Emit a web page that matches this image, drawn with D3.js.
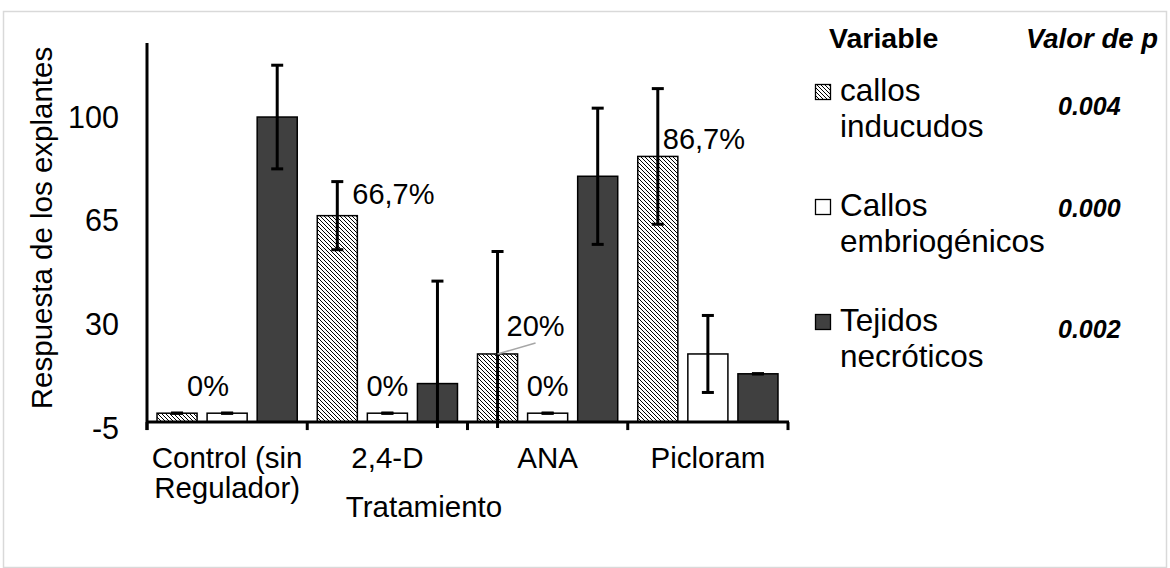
<!DOCTYPE html>
<html>
<head>
<meta charset="utf-8">
<script src="https://cdn.jsdelivr.net/npm/d3@7"></script>
<style>
  html, body { margin: 0; padding: 0; background: #fff; }
  svg { display: block; font-family: "Liberation Sans", Arial, sans-serif; }
</style>
</head>
<body>
<svg id="chart" width="1170" height="568"></svg>
<script>
// Treatments on the x axis
const categories = ["Control (sin Regulador)", "2,4-D", "ANA", "Picloram"];
const categoryLines = [["Control (sin", "Regulador)"], ["2,4-D"], ["ANA"], ["Picloram"]];

// Response variables (series)
const seriesNames = ["callos inducudos", "Callos embriogénicos", "Tejidos necróticos"];
const legendLines = [["callos", "inducudos"], ["Callos", "embriogénicos"], ["Tejidos", "necróticos"]];
const pValues = ["0.004", "0.000", "0.002"];

// Mean response per treatment, one array per series
const callosInducidos = [0, 66.7, 20, 86.7];
const callosEmbriogenicos = [0, 0, 0, 20];
const tejidosNecroticos = [100, 10, 80, 13.3];

// Error (± half-length) per treatment, one array per series
const errCallosInducidos = [0, 11.5, 34.6, 22.9];
const errCallosEmbriogenicos = [0, 0, 0, 13];
const errTejidosNecroticos = [17.5, 34.6, 23, 0];

// Data labels (text shown above selected bars)
const labelSeries = [0, 0, 1, 0, 1, 0];
const labelCategory = [0, 1, 1, 2, 2, 3];
const labelText = ["0%", "66,7%", "0%", "20%", "0%", "86,7%"];

// Y axis ticks
const yTicks = [-5, 30, 65, 100];

const values = [callosInducidos, callosEmbriogenicos, tejidosNecroticos];
const errors = [errCallosInducidos, errCallosEmbriogenicos, errTejidosNecroticos];

const svg = d3.select("#chart");
const FONT = 29.5;

// outer chart border
svg.append("rect")
  .attr("x", 3.5).attr("y", 11.5).attr("width", 1163).attr("height", 556)
  .attr("fill", "none").attr("stroke", "#d9d9d9").attr("stroke-width", 1.5);

// hatch pattern (dark downward diagonal)
const defs = svg.append("defs");
const pat = defs.append("pattern")
  .attr("id", "hatch").attr("patternUnits", "userSpaceOnUse")
  .attr("width", 4).attr("height", 4);
pat.append("rect").attr("width", 4).attr("height", 4).attr("fill", "#fff");
pat.append("path")
  .attr("d", "M-1,-1 L5,5 M-1,3 L1,5 M3,-1 L5,1")
  .attr("stroke", "#000").attr("stroke-width", 1.0);

const fills = ["url(#hatch)", "#ffffff", "#404040"];

const plot = { left: 147, right: 788, top: 43, bottom: 428 };
const axisCross = -3;

const x0 = d3.scaleBand().domain(categories).range([plot.left, plot.right]).padding(0);
const x1 = d3.scaleBand().domain(d3.range(seriesNames.length))
  .range([0, x0.bandwidth()]).paddingInner(0.2).paddingOuter(0.2);
const y = d3.scaleLinear().domain([-5, 125]).range([plot.bottom, plot.top]);

// bars
const g = svg.append("g");
categories.forEach((c, ci) => {
  values.forEach((vals, si) => {
    const bx = x0(c) + x1(si);
    const top = y(vals[ci]);
    g.append("rect")
      .attr("x", bx).attr("y", top)
      .attr("width", x1.bandwidth())
      .attr("height", y(axisCross) - top)
      .attr("fill", fills[si])
      .attr("stroke", "#000").attr("stroke-width", 1.5);
  });
});

// error bars
const eg = svg.append("g").attr("stroke", "#000").attr("stroke-width", 3);
categories.forEach((c, ci) => {
  values.forEach((vals, si) => {
    const cx = x0(c) + x1(si) + x1.bandwidth() / 2;
    const v = vals[ci], e = errors[si][ci];
    const hi = v + e, lo = Math.max(v - e, -5);
    const cap = 6;
    eg.append("line").attr("x1", cx).attr("x2", cx).attr("y1", y(hi)).attr("y2", y(lo));
    eg.append("line").attr("x1", cx - cap).attr("x2", cx + cap).attr("y1", y(hi)).attr("y2", y(hi));
    if (v - e >= -5) {
      eg.append("line").attr("x1", cx - cap).attr("x2", cx + cap).attr("y1", y(lo)).attr("y2", y(lo));
    }
  });
});

// axes
svg.append("line")
  .attr("x1", plot.left).attr("x2", plot.left)
  .attr("y1", y(125)).attr("y2", y(-5) + 2)
  .attr("stroke", "#000").attr("stroke-width", 3);
svg.append("line")
  .attr("x1", plot.left).attr("x2", plot.right + 1)
  .attr("y1", y(axisCross)).attr("y2", y(axisCross))
  .attr("stroke", "#000").attr("stroke-width", 3);

// category boundary ticks
const boundaries = categories.map(c => x0(c)).concat([plot.right]);
svg.append("g").selectAll("line").data(boundaries).join("line")
  .attr("x1", d => d).attr("x2", d => d)
  .attr("y1", y(axisCross)).attr("y2", y(axisCross) + 8)
  .attr("stroke", "#000").attr("stroke-width", 3);

// y tick labels
svg.append("g").selectAll("text").data(yTicks).join("text")
  .attr("x", 119).attr("y", d => y(d)).attr("dy", "0.35em")
  .attr("text-anchor", "end").attr("font-size", 30.5).attr("fill", "#000")
  .text(d => d);

// category labels
categories.forEach((c, ci) => {
  const t = svg.append("text")
    .attr("x", x0(c) + x0.bandwidth() / 2).attr("y", 468)
    .attr("text-anchor", "middle").attr("font-size", FONT).attr("fill", "#000");
  categoryLines[ci].forEach((ln, li) => {
    t.append("tspan").attr("x", x0(c) + x0.bandwidth() / 2)
      .attr("dy", li === 0 ? 0 : 30).text(ln);
  });
});

// axis titles
svg.append("text")
  .attr("x", 424).attr("y", 517)
  .attr("text-anchor", "middle").attr("font-size", FONT).attr("fill", "#000")
  .text("Tratamiento");
svg.append("text")
  .attr("transform", "translate(52,228) rotate(-90)")
  .attr("text-anchor", "middle").attr("font-size", FONT).attr("fill", "#000")
  .text("Respuesta de los explantes");

// data labels, offset from the bar's top-centre
const labelOffsets = [[31, -17, "middle"], [15, -12, "start"], [0, -17, "middle"],
                      [38, -18, "middle"], [0, -17, "middle"], [5, -7, "start"]];
labelText.forEach((txt, i) => {
  const si = labelSeries[i], ci = labelCategory[i];
  const cx = x0(categories[ci]) + x1(si) + x1.bandwidth() / 2;
  const ty = y(values[si][ci]);
  const [dx, dy, anchor] = labelOffsets[i];
  if (txt === "20%") {
    svg.append("line")
      .attr("x1", cx).attr("y1", ty)
      .attr("x2", cx + 38).attr("y2", ty - 11)
      .attr("stroke", "#a6a6a6").attr("stroke-width", 1.5);
  }
  svg.append("text")
    .attr("x", cx + dx).attr("y", ty + dy)
    .attr("text-anchor", anchor).attr("font-size", 29).attr("fill", "#000")
    .text(txt);
});

// legend headers
svg.append("text").attr("x", 829).attr("y", 48)
  .attr("font-size", 28.5).attr("font-weight", "bold").attr("fill", "#000").text("Variable");
svg.append("text").attr("x", 1026).attr("y", 48)
  .attr("font-size", 27.5).attr("font-weight", "bold").attr("font-style", "italic")
  .attr("fill", "#000").text("Valor de p");

// legend entries
const legendTop = [101, 216, 331];
const pBase = [115, 217, 338];
seriesNames.forEach((s, si) => {
  const by = legendTop[si];
  svg.append("rect")
    .attr("x", 815.5).attr("y", by - 16.5).attr("width", 15).attr("height", 15)
    .attr("fill", fills[si]).attr("stroke", "#000").attr("stroke-width", 1.3);
  const t = svg.append("text").attr("x", 840).attr("y", by)
    .attr("font-size", 31.5).attr("fill", "#000");
  legendLines[si].forEach((ln, li) => {
    t.append("tspan").attr("x", 840).attr("dy", li === 0 ? 0 : 36).text(ln);
  });
  svg.append("text").attr("x", 1058).attr("y", pBase[si])
    .attr("font-size", 25).attr("font-weight", "bold").attr("font-style", "italic")
    .attr("fill", "#000").text(pValues[si]);
});
</script>
</body>
</html>
